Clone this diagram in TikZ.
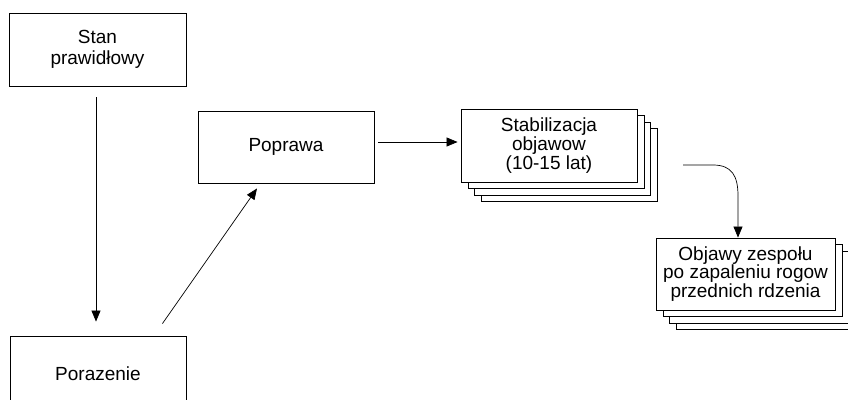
\documentclass[tikz,border=0pt]{standalone}
\usepackage{fontspec}
\setmainfont{Liberation Sans}
\usetikzlibrary{arrows.meta,shadows}

\tikzset{
  stepbox/.style={draw,fill=white,line width=0.9pt,inner sep=0pt,minimum width=176pt,minimum height=73pt,align=center,font=\fontsize{19}{16}\selectfont},
  stackbox/.style={stepbox,
    copy shadow={shadow xshift=20pt,shadow yshift=-19.5pt},
    copy shadow={shadow xshift=13.5pt,shadow yshift=-13pt},
    copy shadow={shadow xshift=7pt,shadow yshift=-6.5pt}},
  arr/.style={-{Triangle[length=11pt,width=9pt]},line width=0.7pt},
}

\begin{document}
\begin{tikzpicture}[x=1pt,y=-1pt]
\useasboundingbox (0,0) rectangle (848,399);
\clip (0,0) rectangle (848,399);
\fill[white] (0,0) rectangle (848,399);
% boxes
\node[stepbox,font=\fontsize{19}{21}\selectfont,minimum width=177pt] (stan) at (97.5,49.5) {Stan\\prawidłowy};
\node[stepbox,minimum height=76pt] (porazenie) at (98,374) {Porazenie};
\node[stepbox,minimum height=72pt] (poprawa) at (286,147) {Poprawa};
\node[stackbox] (stab) at (549,145.5) {Stabilizacja\\objawow\\(10-15 lat)};
\node[stackbox,minimum width=179pt,minimum height=72pt] (objawy) at (745.5,274) {Objawy zespołu\\po zapaleniu rogow\\przednich rdzenia};
% arrows
\draw[arr,shorten <=11pt,shorten >=14pt] ([xshift=-1.5pt]stan.south) -- ([xshift=-2pt]porazenie.north);
\draw[arr] ([xshift=-24pt,yshift=12pt]porazenie.north east) -- ([xshift=-29pt,yshift=-5pt]poprawa.south);
\draw[arr,shorten <=4pt,shorten >=3pt] ([yshift=5pt]poprawa.east) -- ([yshift=3.5pt]stab.west);
\coordinate (tail) at (683,165);
\draw[arr] (tail) -- (713,165) .. controls (732,165) and (738,176) .. (738,196) -- ([xshift=-7.5pt]objawy.north);
\end{tikzpicture}
\end{document}
